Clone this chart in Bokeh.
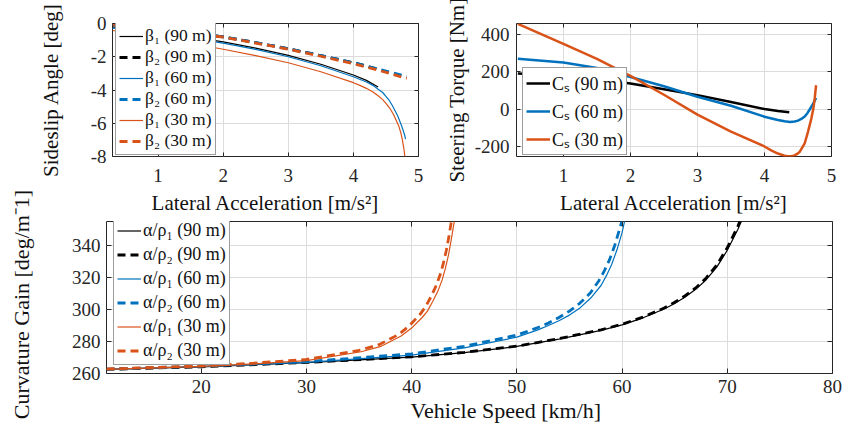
import math
from bokeh.plotting import figure
from bokeh.layouts import column, row
from bokeh.models import Range1d, FixedTicker, LinearAxis, Legend, LegendItem, Label, Title
from bokeh.embed import file_html
from bokeh.resources import INLINE

FONT = "Liberation Serif"
BLACK = "#000000"
BLUE = "#0072BD"
ORANGE = "#D95319"
AX = "#262626"
TXT = "#111111"

# ---------------- Sideslip angle vs lateral acceleration ----------------
ay_b1_90 = [0.3, 0.5, 1.0, 1.5, 2.0, 2.5, 3.0, 3.5, 4.0, 4.2, 4.38]
b1_90 = [-0.2, -0.28, -0.52, -0.8, -1.1, -1.48, -1.92, -2.45, -3.1, -3.42, -3.82]
ay_b2_90 = [0.3, 0.5, 1.0, 1.5, 2.0, 2.5, 3.0, 3.5, 4.0, 4.38]
b2_90 = [-0.03, -0.12, -0.36, -0.57, -0.8, -1.15, -1.52, -1.93, -2.36, -2.75]

ay_b1_60 = [0.3, 0.5, 1.0, 1.5, 2.0, 2.5, 3.0, 3.5, 4.0, 4.2, 4.3, 4.38, 4.45, 4.5, 4.55,
            4.6, 4.64, 4.68, 4.71, 4.74, 4.77, 4.79, 4.8]
b1_60 = [-0.28, -0.36, -0.6, -0.88, -1.18, -1.56, -2.0, -2.54, -3.2, -3.52, -3.72, -3.95, -4.15, -4.38, -4.62,
         -4.95, -5.25, -5.55, -5.85, -6.15, -6.5, -6.75, -6.95]
ay_b2_60 = [0.3, 0.5, 1.0, 1.5, 2.0, 2.5, 3.0, 3.5, 4.0, 4.4, 4.82]
b2_60 = [-0.03, -0.12, -0.36, -0.57, -0.8, -1.15, -1.52, -1.93, -2.36, -2.76, -3.18]

ay_b1_30 = [0.3, 0.5, 1.0, 1.5, 2.0, 2.5, 3.0, 3.5, 4.0, 4.1, 4.2, 4.3, 4.38, 4.45, 4.5, 4.56,
            4.62, 4.66, 4.7, 4.73, 4.75, 4.77, 4.785, 4.79]
b1_30 = [-0.42, -0.53, -0.85, -1.18, -1.55, -1.93, -2.36, -2.9, -3.56, -3.72, -3.9, -4.12, -4.35, -4.58, -4.8, -5.1,
         -5.5, -5.85, -6.2, -6.6, -6.95, -7.4, -7.8, -8.0]
ay_b2_30 = [0.3, 0.5, 1.0, 1.5, 2.0, 2.5, 3.0, 3.5, 4.0, 4.4, 4.82]
b2_30 = [-0.03, -0.13, -0.37, -0.59, -0.82, -1.18, -1.55, -1.97, -2.42, -2.83, -3.3]

# ---------------- Steering torque vs lateral acceleration ----------------
ay_cs_90 = [0.32, 1.0, 1.5, 2.0, 2.5, 3.0, 3.5, 4.0, 4.2, 4.37]
cs_90 = [191, 180, 160, 137, 107, 75, 38, 0, -10, -17]
ay_cs_60 = [0.32, 1.0, 1.5, 2.0, 2.5, 3.0, 3.5, 4.0, 4.2, 4.3, 4.38, 4.45, 4.5, 4.55, 4.6,
            4.64, 4.67, 4.72, 4.75, 4.77]
cs_60 = [271, 250, 221, 172, 123, 66, 18, -41, -59, -66, -69, -67, -62, -53, -40,
         -22, -5, 25, 45, 60]
ay_cs_30 = [0.32, 1.0, 1.5, 2.0, 2.5, 3.0, 3.5, 4.0, 4.1, 4.2, 4.3, 4.35, 4.4, 4.45, 4.5, 4.53,
            4.6, 4.65, 4.7, 4.73, 4.75, 4.77]
cs_30 = [458, 351, 270, 178, 77, -30, -121, -201, -222, -239, -251, -254, -253, -249, -238, -228,
         -185, -121, -50, 4, 60, 128]

# ---------------- Curvature gain vs vehicle speed ----------------
v_90 = [11, 20, 30, 40, 45, 50, 54, 58, 60, 62, 64, 65, 66, 67, 68, 69, 70, 71, 71.6]
g1_90 = [262.6, 264.2, 266.8, 270.2, 273.0, 276.9, 281.5, 287.0, 290.4, 294.8, 300.3, 303.8, 307.8, 312.6,
         318.6, 326.5, 337.0, 350.0, 359.0]
g2_90 = [262.6, 264.2, 266.9, 270.4, 273.2, 277.1, 281.8, 287.3, 290.8, 295.3, 300.9, 304.5, 308.6, 313.5,
         319.7, 327.8, 338.6, 352.0, 361.5]

v1_60 = [11, 20, 30, 40, 45, 50, 52, 53, 54, 55, 56, 57, 58, 58.5, 59, 59.5, 60, 60.3]
g1_60 = [262.6, 264.4, 267.0, 271.5, 276.0, 282.7, 287.3, 290.0, 293.0, 296.5, 301.0, 307.0, 315.0, 321.0,
         328.0, 337.0, 348.0, 357.0]
v2_60 = [11, 20, 30, 40, 45, 50, 52, 53, 54, 55, 56, 57, 57.8, 58.3, 58.8, 59.3, 59.8, 60.1]
g2_60 = [262.7, 264.6, 267.4, 272.3, 277.0, 284.0, 288.7, 291.5, 295.0, 299.0, 304.0, 310.5, 318.0, 324.0,
         331.0, 340.0, 351.0, 358.0]

v1_30 = [11, 20, 25, 30, 35.2, 37.1, 39, 40, 41, 41.5, 42, 42.5, 42.9, 43.2, 43.5, 43.75, 44.0, 44.15]
g1_30 = [262.6, 264.4, 266.0, 268.0, 273.6, 277.0, 283.4, 288.4, 295.0, 299.0, 305.0, 311.5, 318.5, 325.5,
         334.0, 343.0, 353.0, 359.0]
v2_30 = [11, 20, 25, 30, 35.0, 36.9, 38.8, 39.8, 40.8, 41.3, 41.8, 42.3, 42.7, 43.0, 43.3, 43.55, 43.8, 43.95]
g2_30 = [262.8, 264.7, 266.5, 268.8, 274.4, 278.0, 284.5, 290.0, 297.0, 301.5, 307.5, 314.5, 321.5, 328.5,
         337.0, 346.0, 356.0, 362.0]

# tick values
acc_ticks = [1, 2, 3, 4, 5]
beta_ticks = [-8, -6, -4, -2, 0]
cs_ticks = [-200, 0, 200, 400]
v_ticks = [20, 30, 40, 50, 60, 70, 80]
g_ticks = [260, 280, 300, 320, 340]

ACC_LABEL = "Lateral Acceleration [m/s²]"


def make_fig(w, h, xr, yr, bl, br, bt, bb):
    p = figure(width=w, height=h, x_range=Range1d(*xr), y_range=Range1d(*yr),
               output_backend="svg", toolbar_location=None,
               min_border_left=bl, min_border_right=br,
               min_border_top=bt, min_border_bottom=bb)
    p.outline_line_color = AX
    p.outline_line_width = 1
    p.background_fill_color = "white"
    p.border_fill_color = "white"
    return p


def style_axes(p, xticks, yticks, xlabel, ylabel, tl, xls, yls, xals, yals, lsize):
    for ax, ticks, ls in ((p.xaxis[0], xticks, xls), (p.yaxis[0], yticks, yls)):
        ax.ticker = FixedTicker(ticks=ticks)
        ax.major_label_overrides = {t: str(t) for t in ticks}
        ax.major_label_text_font = FONT
        ax.major_label_text_font_size = "19px"
        ax.major_label_text_color = AX
        ax.major_label_standoff = ls
        ax.axis_line_color = None
        ax.major_tick_in = tl
        ax.major_tick_out = 0
        ax.major_tick_line_color = AX
        ax.minor_tick_line_color = None
    p.xaxis[0].axis_label = xlabel
    p.yaxis[0].axis_label = ylabel
    p.xaxis[0].axis_label_standoff = xals
    p.yaxis[0].axis_label_standoff = yals
    for ax in (p.xaxis[0], p.yaxis[0]):
        ax.axis_label_text_font = FONT
        ax.axis_label_text_font_size = lsize
        ax.axis_label_text_font_style = "normal"
        ax.axis_label_text_color = TXT
    p.grid.grid_line_color = "#dcdcdc"
    p.grid.grid_line_width = 1
    # tick marks on the opposite sides (boxed axes), no labels drawn there
    for side, ticks in (("right", yticks), ("above", xticks)):
        a = LinearAxis(ticker=FixedTicker(ticks=ticks),
                       major_label_text_font_size="0px",
                       major_label_text_color=None,
                       major_label_standoff=0,
                       axis_label_standoff=0,
                       major_tick_in=tl, major_tick_out=0,
                       major_tick_line_color=AX,
                       minor_tick_line_color=None,
                       axis_line_color=None)
        p.add_layout(a, side)


def add_legend(p, items, loc, gh, sp, fs="18px"):
    leg = Legend(items=[LegendItem(label=l, renderers=[r]) for l, r in items],
                 location=loc, label_text_font=FONT, label_text_font_size=fs,
                 label_text_line_height=1.0,
                 label_text_color=TXT,
                 glyph_width=24, glyph_height=gh, label_height=gh,
                 label_standoff=2, padding=3, spacing=sp, margin=0,
                 border_line_color="#3c3c3c", border_line_width=1.5,
                 background_fill_color="white", background_fill_alpha=1.0)
    p.add_layout(leg)


DASH = "8 5"

# ---------- narrow strip holding the long y title of the lower panel ----------
strip = figure(width=35, height=428, x_range=Range1d(0, 35), y_range=Range1d(0, 428),
               output_backend="svg", toolbar_location=None,
               x_axis_location=None, y_axis_location=None,
               min_border_left=0, min_border_right=0, min_border_top=0, min_border_bottom=0)
strip.grid.visible = False
strip.outline_line_color = None
strip.add_layout(Label(x=21, y=124, text="Curvature Gain [deg/m⁻1]", text_font=FONT,
                       text_font_size="22px", text_color=TXT, text_align="center",
                       text_baseline="middle", angle=math.pi / 2))

# ---------- top-left ----------
p1 = make_fig(405, 219, (0.3, 5), (-8, 0), 71, 22, 23, 63)
style_axes(p1, acc_ticks, beta_ticks, ACC_LABEL, "Sideslip Angle [deg]", 4, 12, 6, 6, 25, "21px")
r1 = p1.line(ay_b1_90, b1_90, line_color=BLACK, line_width=1.2)
r2 = p1.line(ay_b2_90, b2_90, line_color=BLACK, line_width=2.8, line_dash=DASH)
r3 = p1.line(ay_b1_60, b1_60, line_color=BLUE, line_width=1.2)
r4 = p1.line(ay_b2_60, b2_60, line_color=BLUE, line_width=2.8, line_dash=DASH)
r5 = p1.line(ay_b1_30, b1_30, line_color=ORANGE, line_width=1.2)
r6 = p1.line(ay_b2_30, b2_30, line_color=ORANGE, line_width=2.8, line_dash=DASH)
add_legend(p1, [("β₁ (90 m)", r1), ("β₂ (90 m)", r2), ("β₁ (60 m)", r3),
                ("β₂ (60 m)", r4), ("β₁ (30 m)", r5), ("β₂ (30 m)", r6)], (3, 1), 18, 0, "17.5px")

# ---------- top-right ----------
p2 = make_fig(404, 219, (0.3, 5), (-255, 460), 76, 13, 23, 63)
style_axes(p2, acc_ticks, cs_ticks, ACC_LABEL, "Steering Torque [Nm]", 4, 12, 7, 6, 3, "21px")
c1 = p2.line(ay_cs_90, cs_90, line_color=BLACK, line_width=2.5)
c2 = p2.line(ay_cs_60, cs_60, line_color=BLUE, line_width=2.5)
c3 = p2.line(ay_cs_30, cs_30, line_color=ORANGE, line_width=2.5)
add_legend(p2, [("Cₛ (90 m)", c1), ("Cₛ (60 m)", c2), ("Cₛ (30 m)", c3)], (6, 1), 22, 4)

# ---------- bottom ----------
p3 = make_fig(809, 209, (11, 80), (260, 355), 71, 12, 2, 55)
style_axes(p3, v_ticks, g_ticks, None, None, 5, 6, 6, 0, 10, "22px")
g1 = p3.line(v_90, g1_90, line_color=BLACK, line_width=1.2)
g2 = p3.line(v_90, g2_90, line_color=BLACK, line_width=2.8, line_dash=DASH)
g3 = p3.line(v1_60, g1_60, line_color=BLUE, line_width=1.2)
g4 = p3.line(v2_60, g2_60, line_color=BLUE, line_width=2.8, line_dash=DASH)
g5 = p3.line(v1_30, g1_30, line_color=ORANGE, line_width=1.2)
g6 = p3.line(v2_30, g2_30, line_color=ORANGE, line_width=2.8, line_dash=DASH)
add_legend(p3, [("α/ρ₁ (90 m)", g1), ("α/ρ₂ (90 m)", g2), ("α/ρ₁ (60 m)", g3),
                ("α/ρ₂ (60 m)", g4), ("α/ρ₁ (30 m)", g5), ("α/ρ₂ (30 m)", g6)], (7, 8), 21, 3)
p3.add_layout(Title(text="Vehicle Speed [km/h]", align="left", offset=304, standoff=0,
                    text_font=FONT, text_font_size="22px", text_font_style="normal",
                    text_color=TXT), "below")

layout = row(strip, column(row(p1, p2), p3))
open("out.html", "w").write(file_html(layout, INLINE))
